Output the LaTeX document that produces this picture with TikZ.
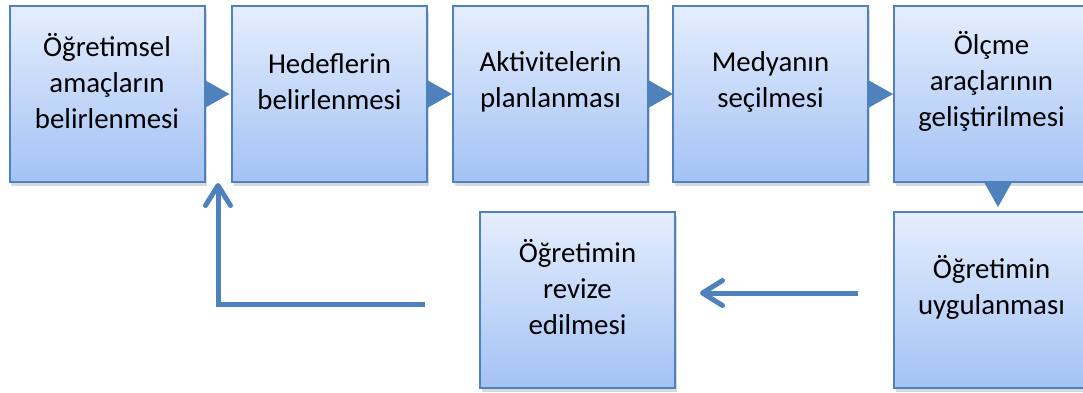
\documentclass[tikz,border=0pt]{standalone}
\usepackage{fontspec}
\setmainfont{Carlito}
\usetikzlibrary{arrows.meta,shadows}
\definecolor{ogr_blue}{RGB}{79,129,189}
\definecolor{ogr_top}{RGB}{229,238,253}
\definecolor{ogr_bot}{RGB}{163,194,245}

\begin{document}
\begin{tikzpicture}[font=\fontsize{16.4}{20.5}\selectfont,
          box/.style={draw=ogr_blue, line width=0.04cm, top color=ogr_top, bottom color=ogr_bot,
                      minimum width=3.9cm, minimum height=3.52cm, inner sep=0pt,
                      drop shadow={shadow xshift=0.04cm, shadow yshift=-0.07cm, opacity=0.3}},
          txt/.style={align=center, yshift=0.25cm},
          tri/.style={fill=ogr_blue},
          flow/.style={draw=ogr_blue, line width=0.1cm,
                       -{Straight Barb[length=0.4cm, width=0.5cm, round]}}]
        \useasboundingbox (0,0) rectangle (21.66,-7.84);
        % upper row
        \node[box, label={[txt]center:{Öğretimsel\\amaçların\\belirlenmesi}}] (b1) at (2.14,-1.88) {};
        \node[box, label={[txt]center:{Hedeflerin\\belirlenmesi}}] (b2) at (6.59,-1.88) {};
        \node[box, label={[txt]center:{Aktivitelerin\\planlanması}}] (b3) at (11.01,-1.88) {};
        \node[box, label={[txt]center:{Medyanın\\seçilmesi}}] (b4) at (15.41,-1.88) {};
        \node[box, label={[txt]center:{Ölçme\\araçlarının\\geliştirilmesi}}] (b5) at (19.83,-1.88) {};
        % lower row
        \node[box, label={[txt]center:{Öğretimin\\uygulanması}}] (b6) at (19.83,-6.0) {};
        \node[box, label={[txt]center:{Öğretimin\\revize\\edilmesi}}] (b7) at (11.55,-6.0) {};
        % small triangles
        \foreach \i in {1,2,3,4}
          \fill[tri] ([yshift=0.27cm]b\i.east) -- ++(0.48,-0.27) -- ++(-0.48,-0.27) -- cycle;
        \fill[tri] ([xshift=-0.14cm]b5.south) -- ++(0.27,-0.48) -- ++(0.27,0.48) -- cycle;
        % arrows
        \coordinate (a1) at (17.16,-5.86);
        \coordinate (a2) at (14.0,-5.86);
        \draw[flow] (a1) -- (a2);
        \coordinate (r1) at (8.5,-6.08);
        \coordinate (r2) at (4.36,-3.66);
        \draw[flow] (r1) -| (r2);
      \end{tikzpicture}
\end{document}
